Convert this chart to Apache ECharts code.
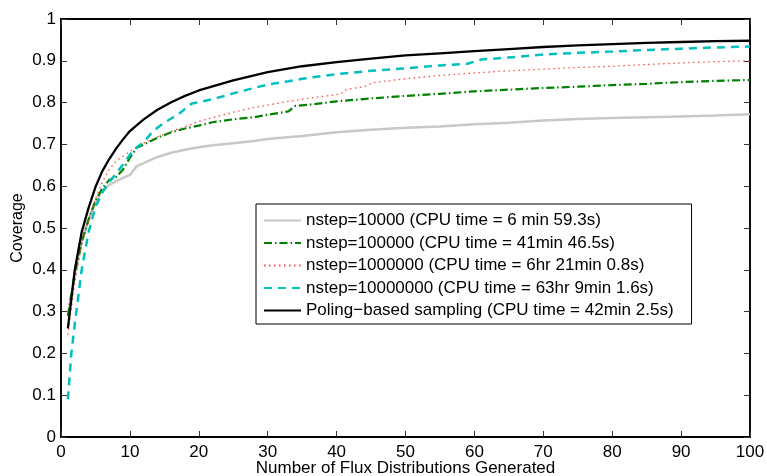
<!DOCTYPE html>
<html>
<head>
<meta charset="utf-8">
<script src="https://cdn.jsdelivr.net/npm/echarts@6/dist/echarts.min.js"></script>
<style>html,body{margin:0;padding:0;background:#fff;overflow:hidden;width:100%;height:100%}#c{width:767px;height:476px}</style>
</head>
<body>
<div id="c"></div>
<script>
const seriesNames = [
  'nstep=10000 (CPU time = 6 min 59.3s)',
  'nstep=100000 (CPU time = 41min 46.5s)',
  'nstep=1000000 (CPU time = 6hr 21min 0.8s)',
  'nstep=10000000 (CPU time = 63hr 9min 1.6s)',
  'Poling\u2212based sampling (CPU time = 42min 2.5s)'
];
const xTicks = [0,10,20,30,40,50,60,70,80,90,100];
const yTicks = [0,0.1,0.2,0.3,0.4,0.5,0.6,0.7,0.8,0.9,1];

const grayX = [1,2,3,4,5,6,7,8,9,10,11,12,14,16,18,20,22,25,28,30,32,35,40,45,50,55,60,65,70,75,80,85,90,95,100];
const grayY = [0.29,0.39,0.47,0.52,0.56,0.59,0.603,0.612,0.62,0.627,0.648,0.655,0.67,0.68,0.687,0.693,0.698,0.703,0.708,0.713,0.716,0.72,0.729,0.735,0.74,0.743,0.748,0.752,0.757,0.761,0.763,0.765,0.767,0.769,0.772];

const greenX = [1,2,3,4,5,6,7,8,9,10,11,12,14,16,18,20,22,25,28,30,33,34,36,40,45,50,55,60,65,70,75,80,85,90,95,100];
const greenY = [0.29,0.39,0.465,0.52,0.565,0.595,0.615,0.622,0.64,0.668,0.692,0.70,0.716,0.729,0.738,0.745,0.753,0.76,0.765,0.771,0.779,0.792,0.795,0.803,0.81,0.816,0.821,0.827,0.831,0.835,0.838,0.842,0.845,0.849,0.852,0.854];

const redX = [1,2,3,4,5,6,7,8,9,10,12,14,16,18,20,22,25,28,30,33,35,38,40.5,41.5,44,45.3,48,50,55,60,65,70,75,80,85,90,95,100];
const redY = [0.245,0.37,0.46,0.52,0.57,0.61,0.64,0.66,0.672,0.683,0.703,0.718,0.731,0.742,0.755,0.764,0.777,0.788,0.794,0.803,0.808,0.815,0.82,0.832,0.838,0.848,0.853,0.857,0.865,0.871,0.876,0.88,0.884,0.887,0.891,0.895,0.898,0.90];

const cyanX = [1,1.5,2,3,4,5,6,7,8,9,10,11,12,13,14,15,16,17,18,19,20,22,25,28,30,33,35,38,40,45,50,55,59,61,65,70,75,80,85,90,95,100];
const cyanY = [0.09,0.20,0.27,0.40,0.49,0.55,0.585,0.61,0.63,0.652,0.675,0.693,0.705,0.725,0.74,0.752,0.762,0.772,0.785,0.798,0.801,0.808,0.822,0.835,0.843,0.851,0.857,0.864,0.868,0.876,0.882,0.889,0.893,0.903,0.908,0.915,0.919,0.922,0.926,0.929,0.932,0.934];

const blackX = [1,2,3,4,5,6,7,8,9,10,12,14,16,18,20,25,30,35,40,45,50,55,60,65,70,75,80,85,90,95,100];
const blackY = [0.26,0.40,0.49,0.548,0.598,0.636,0.665,0.69,0.712,0.732,0.760,0.783,0.801,0.816,0.829,0.853,0.873,0.887,0.897,0.905,0.913,0.918,0.923,0.928,0.933,0.937,0.940,0.943,0.945,0.947,0.948];

const pair = (xs, ys) => xs.map((x, i) => [x, ys[i]]);
const font = 'Liberation Sans, Arial, Helvetica, sans-serif';

const dom = document.getElementById('c');
const chart = echarts.init(dom, null, {renderer: 'canvas', width: 767, height: 476});
const axisBase = {
  type: 'value',
  splitLine: {show: false},
  nameMoveOverlap: false,
  axisTick: {inside: true, length: 6, lineStyle: {color: '#333'}},
  axisLine: {show: true, onZero: false, lineStyle: {color: '#000', width: 1.8}}
};
chart.setOption({
  animation: false,
  backgroundColor: '#fff',
  grid: {left: 61, right: 17, top: 19, bottom: 39, containLabel: false, outerBoundsMode: 'none',
    show: true, borderColor: '#000', borderWidth: 1},
  xAxis: [
    Object.assign({}, axisBase, {
      min: 0, max: 100, interval: 10, position: 'bottom',
      name: 'Number of Flux Distributions Generated', nameLocation: 'middle', nameGap: 23,
      nameTextStyle: {fontSize: 17, color: '#000', fontFamily: font},
      axisLabel: {fontSize: 17, color: '#000', fontFamily: font, margin: 7,
        formatter: v => xTicks.includes(v) ? String(v) : ''}
    }),
    Object.assign({}, axisBase, {
      min: 0, max: 100, interval: 10, position: 'top',
      axisLabel: {show: false}
    })
  ],
  yAxis: [
    Object.assign({}, axisBase, {
      min: 0, max: 1, interval: 0.1, position: 'left',
      name: 'Coverage', nameLocation: 'middle', nameGap: 35,
      nameTextStyle: {fontSize: 16, color: '#000', fontFamily: font},
      axisLabel: {fontSize: 17, color: '#000', fontFamily: font, margin: 5,
        formatter: v => { const t = yTicks.find(y => Math.abs(y - v) < 1e-9); return t === undefined ? '' : String(t); }}
    }),
    Object.assign({}, axisBase, {
      min: 0, max: 1, interval: 0.1, position: 'right',
      axisLabel: {show: false}
    })
  ],
  legend: {
    orient: 'vertical', left: 256, top: 204,
    padding: [8, 18, 5, 7],
    borderColor: '#000', borderWidth: 1, backgroundColor: '#fff',
    itemWidth: 37, itemHeight: 14, itemGap: 5.5,
    itemStyle: {opacity: 0},
    textStyle: {fontSize: 17, color: '#000', fontFamily: font, lineHeight: 17},
    data: seriesNames
  },
  series: [
    {name: seriesNames[0], type: 'line', showSymbol: false, symbol: 'none', data: pair(grayX, grayY),
      lineStyle: {color: '#c8c8c8', width: 2.5, type: 'solid'}, itemStyle: {color: '#c8c8c8'}},
    {name: seriesNames[1], type: 'line', showSymbol: false, symbol: 'none', data: pair(greenX, greenY),
      lineStyle: {color: '#008000', width: 2.2, type: [8, 3, 1.5, 3]}, itemStyle: {color: '#008000'}},
    {name: seriesNames[2], type: 'line', showSymbol: false, symbol: 'none', data: pair(redX, redY),
      lineStyle: {color: '#ff4a4a', width: 1.3, type: [1.5, 3.5]}, itemStyle: {color: '#ff4a4a'}},
    {name: seriesNames[3], type: 'line', showSymbol: false, symbol: 'none', data: pair(cyanX, cyanY),
      lineStyle: {color: '#00bfbf', width: 2.5, type: [8, 6]}, itemStyle: {color: '#00bfbf'}},
    {name: seriesNames[4], type: 'line', showSymbol: false, symbol: 'none', data: pair(blackX, blackY),
      lineStyle: {color: '#000', width: 2.3, type: 'solid'}, itemStyle: {color: '#000'}}
  ]
});
</script>
</body>
</html>
